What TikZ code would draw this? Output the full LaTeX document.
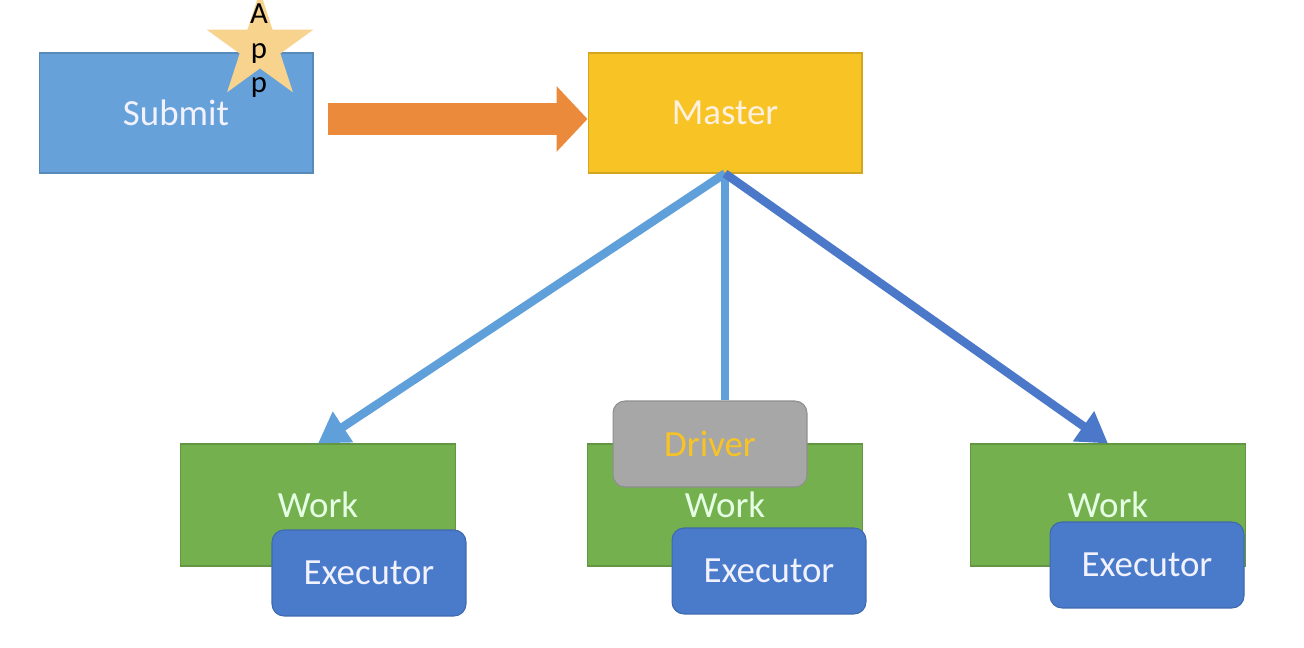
\documentclass[tikz,border=0pt]{standalone}
\usepackage{fontspec}
\setmainfont{Carlito}
\usetikzlibrary{arrows.meta, shapes.geometric}
\definecolor{submitblue}{HTML}{66A2D9}
\definecolor{mastergold}{HTML}{F7C325}
\definecolor{workgreen}{HTML}{75B04E}
\definecolor{execblue}{HTML}{4A7BCB}
\definecolor{drivergray}{HTML}{A7A7A7}
\definecolor{starfill}{HTML}{F8D38E}
\definecolor{fatorange}{HTML}{EC8A3C}
\definecolor{linkblue}{HTML}{5F9FDA}
\definecolor{linkdark}{HTML}{4B78C8}

\begin{document}
\begin{tikzpicture}[
        x=0.02cm, y=-0.02cm,
        box/.style={draw=#1!85!black, fill=#1, line width=0.6pt, inner sep=0pt, minimum width=5.48cm, minimum height=2.4cm, font=\fontsize{21}{25}\selectfont, align=center},
        box/.default=submitblue,
        workbox/.style={box=workgreen, minimum width=5.5cm, minimum height=2.44cm, text=white!90!green},
        roundbox/.style={box=#1, rounded corners=0.24cm, minimum width=3.88cm, minimum height=1.72cm},
        arr/.style={-{Triangle[length=0.6cm, width=0.7cm]}, line width=0.17cm, #1},
        fatarr/.style={-{Triangle[length=0.62cm, width=1.28cm]}, line width=0.64cm, fatorange},
    ]
    \useasboundingbox (0,0) rectangle (1304,648);

    % ---- SUBMIT + APP ----
    \node[box=submitblue, text=white!95!blue] (submit) at (176,113) {Submit};
    \node[star, star points=5, star point ratio=2.618, minimum size=2.24cm, inner sep=0pt, fill=starfill] (appstar) at (260,47) {};
    \node[font=\fontsize{17.5}{19.6}\selectfont, align=center, inner sep=0pt] (applbl) at (259,51) {A\\p\\p};

    % ---- MASTER ----
    \node[box=mastergold, text=white!88!orange] (master) at (725,113) {Master};

    % ---- WORKERS ----
    \node[workbox] (work-l) at (318,505) {Work};
    \node[workbox] (work-m) at (725,505) {Work};
    \node[workbox] (work-r) at (1108,505) {Work};

    \node[roundbox=execblue, text=white!95!blue] (exec-l) at (369,573) {Executor};
    \node[roundbox=execblue, text=white!95!blue] (exec-m) at (769,571) {Executor};
    \node[roundbox=execblue, text=white!95!blue] (exec-r) at (1147,565) {Executor};

    \node[roundbox=drivergray, text=mastergold] (driver) at (710,444) {Driver};

    % ---- ARROWS ----
    \draw[fatarr, shorten <=0.28cm] ([yshift=-0.12cm]submit.east) -- ([yshift=-0.12cm]master.west);
    \draw[arr=linkblue] (master.south) -- (work-l.north);
    \draw[line width=0.17cm, linkblue] (master.south) -- (master.south |- driver.north);
    \draw[arr=linkdark] (master.south) -- (work-r.north);

\end{tikzpicture}
\end{document}
